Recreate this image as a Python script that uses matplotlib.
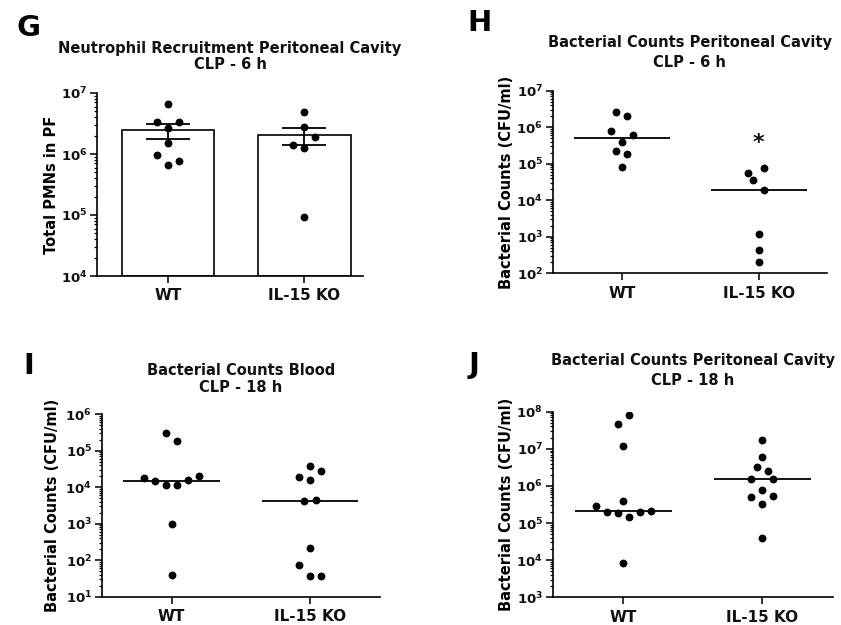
"""
Figure G-J: neutrophil recruitment and bacterial counts after CLP (WT vs IL-15 KO)
- G: bar (mean +/- SEM) with individual points
- H/I/J: scatter with median line
"""

import matplotlib
matplotlib.use("Agg")
import matplotlib.pyplot as plt
import numpy as np
from matplotlib.ticker import FuncFormatter, LogLocator, NullFormatter


GROUPS = ["WT", "IL-15 KO"]

# G - Total PMNs in PF, CLP 6 h
g_wt = [6.5e6, 3.3e6, 3.3e6, 2.7e6, 1.5e6, 9.5e5, 6.7e5, 7.6e5]
g_ko = [4.8e6, 2.8e6, 1.9e6, 1.42e6, 1.24e6, 9.1e4]
g_wt_jit = [0, -1, 1, 0, 0, -1, 0, 1]
g_ko_jit = [0, 0, 1, -1, 0, 0]

# H - Bacterial counts PF, CLP 6 h
h_wt = [2.6e6, 2.07e6, 7.9e5, 6.1e5, 3.9e5, 2.2e5, 1.86e5, 8.1e4]
h_ko = [5.5e4, 7.5e4, 3.7e4, 1.9e4, 1.2e3, 4.4e2, 2.0e2]
h_wt_jit = [-0.5, 0.5, -1, 1, 0, -0.5, 0.5, 0]
h_ko_jit = [-1, 0.5, -0.5, 0.5, 0, 0, 0]
h_star_y = 3.8e5

# I - Bacterial counts blood, CLP 18 h
i_wt = [3.0e5, 1.8e5, 1.8e4, 1.46e4, 1.18e4, 1.18e4, 1.55e4, 2.1e4, 1.0e3, 39]
i_ko = [3.8e4, 2.85e4, 1.95e4, 1.55e4, 4.1e3, 4.5e3, 2.1e2, 76, 38, 38]
i_wt_jit = [-0.5, 0.5, -2.5, -1.5, -0.5, 0.5, 1.5, 2.5, 0, 0]
i_ko_jit = [0, 1, -1, 0, -0.5, 0.5, 0, -1, 0, 1]

# J - Bacterial counts PF, CLP 18 h
j_wt = [7.9e7, 4.6e7, 1.2e7, 2.8e5, 4.0e5, 2.0e5, 1.9e5, 2.0e5, 2.1e5, 1.45e5, 8.3e3]
j_ko = [1.73e7, 6.2e6, 3.2e6, 2.55e6, 1.5e6, 1.5e6, 7.8e5, 4.9e5, 5.5e5, 3.3e5, 4.0e4]
j_wt_jit = [0.5, -0.5, 0, -2.5, 0, -1.5, -0.5, 1.5, 2.5, 0.5, 0]
j_ko_jit = [0, 0, -0.5, 0.5, -1, 1, 0, -1, 1, 0, 0]

JIT_STEP = 0.08
TEXT_COLOR = "#111111"

plt.rcParams["font.family"] = ["DejaVu Sans"]
plt.rcParams["font.weight"] = "bold"
plt.rcParams["mathtext.default"] = "bf"
plt.rcParams["axes.linewidth"] = 1.2
plt.rcParams["text.color"] = TEXT_COLOR


def _log_label(v, pos):
    return r"$10^{%d}$" % int(round(np.log10(v)))


def style_axis(ax, ylo, yhi, xlim, ylabel, label_x):
    ax.set_yscale("log")
    ax.set_ylim(ylo, yhi)
    ax.set_xlim(*xlim)
    for side in ("top", "right"):
        ax.spines[side].set_visible(False)
    ax.yaxis.set_major_locator(LogLocator(base=10, numticks=20))
    ax.yaxis.set_minor_locator(LogLocator(base=10, subs=np.arange(2, 10), numticks=20))
    ax.yaxis.set_major_formatter(FuncFormatter(_log_label))
    ax.yaxis.set_minor_formatter(NullFormatter())
    ax.tick_params(axis="y", which="major", length=5, width=1.2, pad=2, labelsize=9.5,
                   colors=TEXT_COLOR)
    ax.tick_params(axis="y", which="minor", length=2.5, width=0.9)
    ax.set_xticks([0, 1])
    ax.set_xticklabels(GROUPS, fontsize=11, fontweight="bold")
    ax.tick_params(axis="x", length=5, width=1.2, pad=4, colors=TEXT_COLOR)
    ax.set_ylabel(ylabel, fontsize=10.5, fontweight="bold")
    ax.yaxis.set_label_coords(label_x, 0.5)


def add_title(ax, text, pad, spacing):
    ax.set_title(text, fontsize=10.5, fontweight="bold", pad=pad, linespacing=spacing)


def dots(ax, x0, values, jit):
    xs = x0 + np.asarray(jit) * JIT_STEP
    ax.scatter(xs, values, s=32, color="black", zorder=4, linewidths=0)


def median_line(ax, x0, values):
    ax.hlines(np.median(values), x0 - 0.35, x0 + 0.35, color="black", linewidth=1.3, zorder=3)


fig = plt.figure(figsize=(8.41, 6.25), dpi=100)

# ---- G ----
ax_g = fig.add_axes([0.1153, 0.5584, 0.3163, 0.2928])
for x0, vals, jit in ((0, g_wt, g_wt_jit), (1, g_ko, g_ko_jit)):
    arr = np.asarray(vals)
    mean = arr.mean()
    sem = arr.std(ddof=1) / np.sqrt(len(arr))
    ax_g.bar(x0, mean, width=0.68, bottom=1e4, color="white", edgecolor="black",
             linewidth=1.2, zorder=2)
    ax_g.errorbar(x0, mean, yerr=sem, color="black", capsize=16, capthick=1.3,
                  elinewidth=1.3, zorder=3)
    dots(ax_g, x0, vals, jit)
style_axis(ax_g, 1e4, 1e7, (-0.52, 1.43), "Total PMNs in PF", -0.143)
add_title(ax_g, "Neutrophil Recruitment Peritoneal Cavity\nCLP - 6 h", 17, 1.15)

# ---- H ----
ax_h = fig.add_axes([0.6572, 0.5627, 0.3262, 0.2922])
for x0, vals, jit in ((0, h_wt, h_wt_jit), (1, h_ko, h_ko_jit)):
    dots(ax_h, x0, vals, jit)
    median_line(ax_h, x0, vals)
ax_h.text(1, h_star_y, "*", ha="center", va="center", fontsize=16, fontweight="bold")
style_axis(ax_h, 1e2, 1e7, (-0.505, 1.5), "Bacterial Counts (CFU/ml)", -0.141)
add_title(ax_h, "Bacterial Counts Peritoneal Cavity\nCLP - 6 h", 17, 1.4)

# ---- I ----
ax_i = fig.add_axes([0.1209, 0.0453, 0.3309, 0.2918])
for x0, vals, jit in ((0, i_wt, i_wt_jit), (1, i_ko, i_ko_jit)):
    dots(ax_i, x0, vals, jit)
    median_line(ax_i, x0, vals)
style_axis(ax_i, 1e1, 1e6, (-0.506, 1.506), "Bacterial Counts (CFU/ml)", -0.150)
add_title(ax_i, "Bacterial Counts Blood\nCLP - 18 h", 16, 1.15)

# ---- J ----
ax_j = fig.add_axes([0.6572, 0.0443, 0.3333, 0.2970])
for x0, vals, jit in ((0, j_wt, j_wt_jit), (1, j_ko, j_ko_jit)):
    dots(ax_j, x0, vals, jit)
    median_line(ax_j, x0, vals)
style_axis(ax_j, 1e3, 1e8, (-0.51, 1.51), "Bacterial Counts (CFU/ml)", -0.138)
add_title(ax_j, "Bacterial Counts Peritoneal Cavity\nCLP - 18 h", 19, 1.4)

# panel letters
for letter, (px, py) in {"G": (17, 14), "H": (467, 9), "I": (23, 352), "J": (469, 351)}.items():
    fig.text(px / 841, 1 - py / 625, letter, fontsize=21, fontweight="bold",
             ha="left", va="top", color="black")

fig.savefig("out.png", dpi=100)
